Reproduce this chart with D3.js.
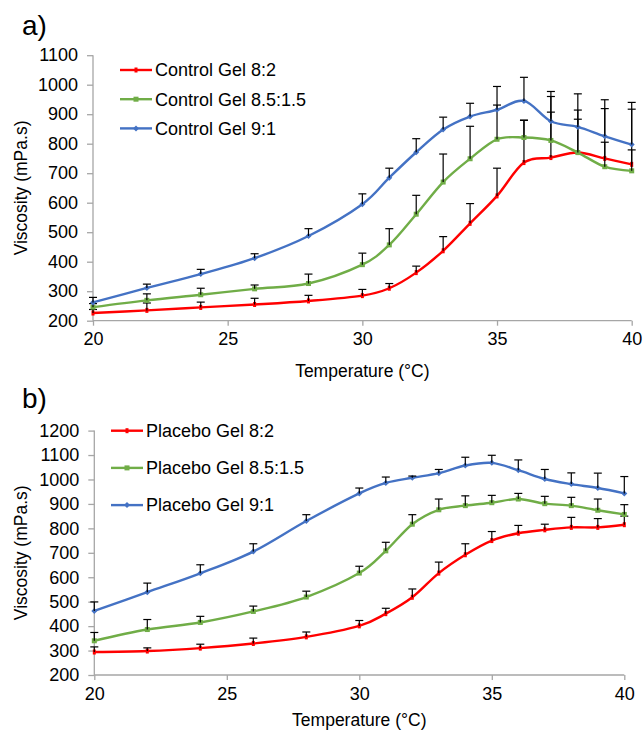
<!DOCTYPE html>
<html>
<head>
<meta charset="utf-8">
<script src="https://cdn.jsdelivr.net/npm/d3@7"></script>
<style>
  html, body { margin: 0; padding: 0; background: #fff; }
  svg { display: block; font-family: "Liberation Sans", Arial, sans-serif; }
</style>
</head>
<body>
<svg id="chart" width="643" height="733"></svg>
<script>
// Measurement temperatures (°C)
const temps = [20, 22, 24, 26, 28, 30, 31, 32, 33, 34, 35, 36, 37, 38, 39, 40];

// a) Control gels: mean viscosity (mPa.s) and upper error (SD)
const control82 = [226, 235, 245, 255, 267, 285, 310, 363, 437, 530, 623, 736, 753, 770, 750, 730];
const control82Err = [12, 25, 18, 21, 19, 21, 16, 22, 48, 67, 94, 143, 154, 144, 169, 187];
const control8515 = [246, 269, 288, 308, 326, 390, 457, 561, 670, 749, 815, 821, 811, 770, 722, 708];
const control8515Err = [12, 22, 22, 13, 32, 39, 55, 64, 95, 110, 116, 59, 149, 113, 83, 71];
const control91 = [262, 311, 358, 412, 487, 595, 685, 771, 848, 892, 915, 945, 876, 857, 825, 797];
const control91Err = [17, 13, 16, 15, 25, 35, 32, 46, 42, 45, 79, 80, 101, 112, 124, 143];

// b) Placebo gels
const placebo82 = [294, 298, 310, 329, 356, 401, 451, 518, 617, 692, 750, 780, 794, 804, 804, 815];
const placebo82Err = [21, 13, 16, 22, 20, 22, 22, 34, 45, 45, 37, 32, 23, 41, 36, 35];
const placebo8515 = [340, 386, 415, 460, 519, 617, 708, 817, 876, 893, 905, 920, 901, 893, 874, 857];
const placebo8515Err = [34, 41, 25, 22, 24, 28, 35, 39, 44, 40, 30, 23, 30, 34, 46, 40];
const placebo91 = [462, 539, 616, 705, 830, 943, 986, 1007, 1026, 1057, 1068, 1038, 1002, 981, 965, 943];
const placebo91Err = [37, 37, 35, 32, 26, 22, 24, 7, 15, 34, 31, 42, 39, 46, 61, 69];

// Axis ticks
const xTicks = [20, 25, 30, 35, 40];
const yTicksA = [200, 300, 400, 500, 600, 700, 800, 900, 1000, 1100];
const yTicksB = [200, 300, 400, 500, 600, 700, 800, 900, 1000, 1100, 1200];

const seriesNamesA = ["Control Gel 8:2", "Control Gel 8.5:1.5", "Control Gel 9:1"];
const seriesNamesB = ["Placebo Gel 8:2", "Placebo Gel 8.5:1.5", "Placebo Gel 9:1"];
const colors = ["#ff0000", "#70ad47", "#4472c4"];
const markers = ["tick", "square", "diamond"];

const svg = d3.select("#chart");

function drawPanel(opt) {
  const g = svg.append("g");
  const x = d3.scaleLinear().domain([20, 40]).range([opt.left, opt.right]);
  const y = d3.scaleLinear().domain([200, opt.yMax]).range([opt.bottom, opt.top]);

  // panel letter
  g.append("text").attr("x", 22).attr("y", opt.letterY)
    .attr("font-size", 28).attr("fill", "#000").text(opt.letter);

  // axes
  const axisColor = "#a6a6a6";
  const xAxis = g.append("g").attr("transform", `translate(0,${opt.bottom})`)
    .call(d3.axisBottom(x).tickValues(xTicks).tickSize(5).tickPadding(7).tickFormat(d3.format("d")));
  const yAxis = g.append("g").attr("transform", `translate(${opt.left},0)`)
    .call(d3.axisLeft(y).tickValues(opt.yTicks).tickSize(6).tickPadding(9).tickFormat(d3.format("d")));
  [xAxis, yAxis].forEach(a => {
    a.select(".domain").attr("stroke", axisColor).attr("stroke-width", 1.3);
    a.selectAll(".tick line").attr("stroke", axisColor).attr("stroke-width", 1.3);
    a.selectAll(".tick text").attr("font-size", 18).attr("fill", "#000")
      .attr("font-family", "Liberation Sans, Arial, sans-serif");
  });
  xAxis.select(".domain").attr("d", `M${opt.left},0H${opt.right}`);
  yAxis.select(".domain").attr("d", `M0,${opt.bottom}V${opt.top}`);

  // axis titles
  g.append("text").attr("x", (opt.left + opt.right) / 2).attr("y", opt.bottom + opt.titleGap)
    .attr("text-anchor", "middle").attr("font-size", 17.5).text("Temperature (°C)");
  g.append("text")
    .attr("transform", `translate(27,${(opt.top + opt.bottom) / 2}) rotate(-90)`)
    .attr("text-anchor", "middle").attr("font-size", 17.5).text("Viscosity (mPa.s)");

  const line = d3.line()
    .x(d => x(d.t)).y(d => y(d.v))
    .curve(d3.curveCardinal.tension(0));

  opt.series.forEach((s, i) => {
    const pts = temps.map((t, k) => ({ t, v: s.values[k], e: s.errors[k] }));
    g.append("path").datum(pts).attr("d", line)
      .attr("fill", "none").attr("stroke", colors[i]).attr("stroke-width", 2.4)
      .attr("stroke-linejoin", "round");
    drawMarkers(g, pts.map(p => [x(p.t), y(p.v)]), i);
    // upper error bars
    const eb = g.append("g").attr("stroke", "#000").attr("stroke-width", 1.2);
    pts.forEach(p => {
      const px = x(p.t), py = y(p.v), pt = y(p.v + p.e);
      eb.append("line").attr("x1", px).attr("x2", px).attr("y1", py).attr("y2", pt);
      eb.append("line").attr("x1", px - 4).attr("x2", px + 4).attr("y1", pt).attr("y2", pt);
    });
  });

  // legend
  opt.names.forEach((name, i) => {
    const ly = opt.legendY + i * opt.legendStep;
    g.append("line").attr("x1", opt.legendX).attr("x2", opt.legendX + opt.legendLen)
      .attr("y1", ly).attr("y2", ly).attr("stroke", colors[i]).attr("stroke-width", 2.4);
    drawMarkers(g, [[opt.legendX + opt.legendLen / 2, ly]], i);
    g.append("text").attr("x", opt.legendX + opt.legendLen + 3).attr("y", ly)
      .attr("dy", "0.35em").attr("font-size", 18).text(name);
  });
}

function drawMarkers(g, coords, i) {
  const c = colors[i];
  coords.forEach(([px, py]) => {
    if (markers[i] === "square") {
      g.append("rect").attr("x", px - 2.5).attr("y", py - 2.5).attr("width", 5).attr("height", 5).attr("fill", c);
    } else if (markers[i] === "diamond") {
      g.append("path").attr("d", `M${px},${py - 3}L${px + 3},${py}L${px},${py + 3}L${px - 3},${py}Z`).attr("fill", c);
    } else {
      g.append("rect").attr("x", px - 1.5).attr("y", py - 2.5).attr("width", 3).attr("height", 5).attr("fill", c);
    }
  });
}

drawPanel({
  letter: "a)", letterY: 35,
  left: 93, right: 631.7, top: 55.2, bottom: 320.7, yMax: 1100, yTicks: yTicksA,
  names: seriesNamesA, titleGap: 56,
  series: [
    { values: control82, errors: control82Err },
    { values: control8515, errors: control8515Err },
    { values: control91, errors: control91Err }
  ],
  legendX: 120, legendLen: 32, legendY: 70, legendStep: 29.2
});

drawPanel({
  letter: "b)", letterY: 408,
  left: 94.3, right: 624.3, top: 430.6, bottom: 675, yMax: 1200, yTicks: yTicksB,
  names: seriesNamesB, titleGap: 51,
  series: [
    { values: placebo82, errors: placebo82Err },
    { values: placebo8515, errors: placebo8515Err },
    { values: placebo91, errors: placebo91Err }
  ],
  legendX: 111, legendLen: 32, legendY: 430.7, legendStep: 37.2
});
</script>
</body>
</html>
